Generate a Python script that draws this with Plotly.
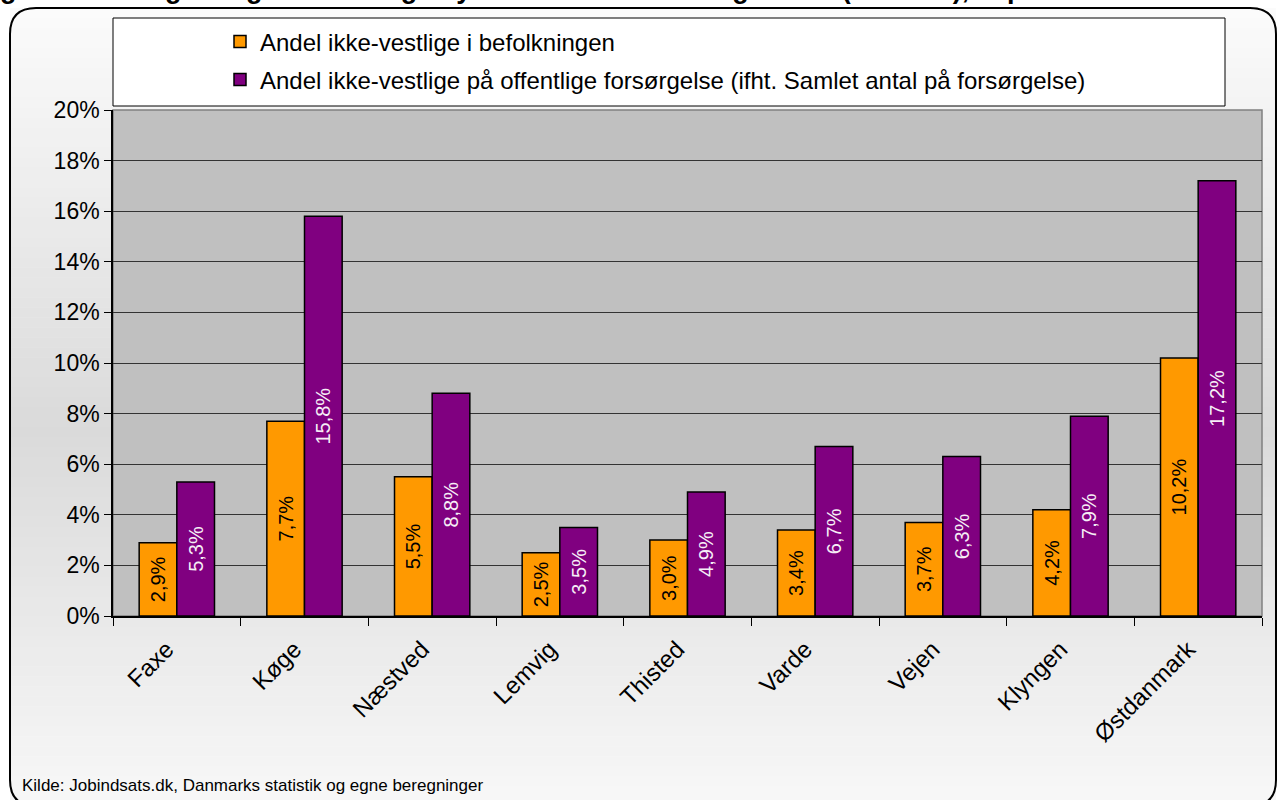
import plotly.graph_objects as go

categories = ["Faxe", "Køge", "Næstved", "Lemvig", "Thisted", "Varde", "Vejen", "Klyngen", "Østdanmark"]
befolkning = [2.9, 7.7, 5.5, 2.5, 3.0, 3.4, 3.7, 4.2, 10.2]
forsorgelse = [5.3, 15.8, 8.8, 3.5, 4.9, 6.7, 6.3, 7.9, 17.2]
name_1 = "Andel ikke-vestlige i befolkningen"
name_2 = "Andel ikke-vestlige på offentlige forsørgelse (ifht. Samlet antal på forsørgelse)"
title_text = "gelsesmodtagere og ikke-vestlige nydanskeres befolkningsandel (16-64 år), sep 2011"
source_text = "Kilde: Jobindsats.dk, Danmarks statistik og egne beregninger"

W_FIG, H_FIG = 1278, 800
PL, PR, PT, PB = 113, 1262, 110, 616
PW, PH = PR - PL, PB - PT


def px(x):
    return (x - PL) / PW


def py(y):
    return (PB - y) / PH


def fmt(v):
    return f"{v:.1f}".replace(".", ",") + "%"


label_font = "Liberation Sans Narrow, Arial Narrow, Liberation Sans, Arial"
main_font = "Liberation Sans, Arial, sans-serif"

fig = go.Figure()
fig.add_trace(go.Bar(
    x=categories, y=befolkning, name=name_1, legend="legend", showlegend=True,
    marker=dict(color="#FF9900", line=dict(color="black", width=1.5)),
    text=[fmt(v) for v in befolkning], textposition="inside", textangle=-90,
    insidetextanchor="middle", constraintext="none",
    textfont=dict(family=label_font, size=20, color="black"),
))
fig.add_trace(go.Bar(
    x=categories, y=forsorgelse, name=name_2, legend="legend2", showlegend=True,
    marker=dict(color="#800080", line=dict(color="black", width=1.5)),
    text=[fmt(v) for v in forsorgelse], textposition="inside", textangle=-90,
    insidetextanchor="middle", constraintext="none",
    textfont=dict(family=label_font, size=20, color="#F6EEF6"),
))

shapes = []
# background gradient bands inside the rounded frame
top, bottom, left, right = 8, 806, 10, 1276
n = 80
step = (bottom - top) / n
for i in range(n):
    y0 = top + i * step
    y1 = y0 + step + 0.5
    yc = (y0 + y1) / 2
    d = abs(yc - 430) / 430
    v = int(round(252 - 34 * max(0.0, 1 - d)))
    shapes.append(dict(type="rect", xref="paper", yref="paper",
                       x0=px(left), x1=px(right), y0=py(y1), y1=py(y0),
                       fillcolor=f"rgb({v},{v},{v})", line=dict(width=0), layer="below"))
# plot area
shapes.append(dict(type="rect", xref="paper", yref="paper", x0=0, x1=1, y0=0, y1=1,
                   fillcolor="#C0C0C0", line=dict(color="#808080", width=1.5), layer="below"))
# legend box
shapes.append(dict(type="rect", xref="paper", yref="paper", x0=px(113), x1=px(1225),
                   y0=py(106), y1=py(18), fillcolor="white",
                   line=dict(color="black", width=1), layer="below"))
# rounded outer frame
r = 26
pts = [
    ("M", [(left, top + r)]),
    ("Q", [(left, top), (left + r, top)]),
    ("L", [(right - r, top)]),
    ("Q", [(right, top), (right, top + r)]),
    ("L", [(right, bottom - r)]),
    ("Q", [(right, bottom), (right - r, bottom)]),
    ("L", [(left + r, bottom)]),
    ("Q", [(left, bottom), (left, bottom - r)]),
]
path = ""
for cmd, ps in pts:
    path += cmd + " " + " ".join(f"{px(a):.5f},{py(b):.5f}" for a, b in ps) + " "
path += "Z"
shapes.append(dict(type="path", xref="paper", yref="paper", path=path,
                   line=dict(color="black", width=2), layer="above"))

fig.update_layout(
    width=W_FIG, height=H_FIG,
    margin=dict(l=PL, r=W_FIG - PR, t=PT, b=H_FIG - PB),
    paper_bgcolor="white", plot_bgcolor="rgba(0,0,0,0)",
    barmode="group", bargap=0.41, bargroupgap=0,
    separators=",.",
    showlegend=True,
    font=dict(family=main_font, color="black"),
    shapes=shapes,
    legend=dict(x=px(220), y=py(42), xanchor="left", yanchor="middle", visible=True,
                bgcolor="rgba(0,0,0,0)", font=dict(size=24, family=main_font)),
    legend2=dict(x=px(220), y=py(80), xanchor="left", yanchor="middle", visible=True,
                 bgcolor="rgba(0,0,0,0)", font=dict(size=24, family=main_font)),
    annotations=[
        dict(text="<b>" + title_text + "</b>", xref="paper", yref="paper",
             x=px(-2), y=py(-11), xanchor="left", yanchor="middle", showarrow=False,
             font=dict(size=27, family=main_font, color="black")),
        dict(text=source_text, xref="paper", yref="paper",
             x=px(20), y=py(785), xanchor="left", yanchor="middle", showarrow=False,
             font=dict(size=17, family=main_font, color="black")),
    ],
)
fig.update_xaxes(
    type="category", tickson="boundaries", ticks="outside", ticklen=8, tickcolor="black",
    showline=True, linecolor="black", linewidth=1.5, tickangle=-45,
    ticklabelstandoff=8, ticklabelshift=-10,
    tickfont=dict(size=24, family=main_font, color="black"), showgrid=False,
)
fig.update_yaxes(
    range=[0, 20], dtick=2, ticksuffix="%", ticks="outside", ticklen=7, tickcolor="black",
    showline=True, linecolor="black", linewidth=1.5,
    showgrid=True, gridcolor="#333333", gridwidth=1, zeroline=False,
    tickfont=dict(size=23, family=main_font, color="black"),
)

fig.write_html("out.html", config={"displayModeBar": False},
               post_script="document.body.style.margin='0px';document.body.style.overflow='hidden';")
